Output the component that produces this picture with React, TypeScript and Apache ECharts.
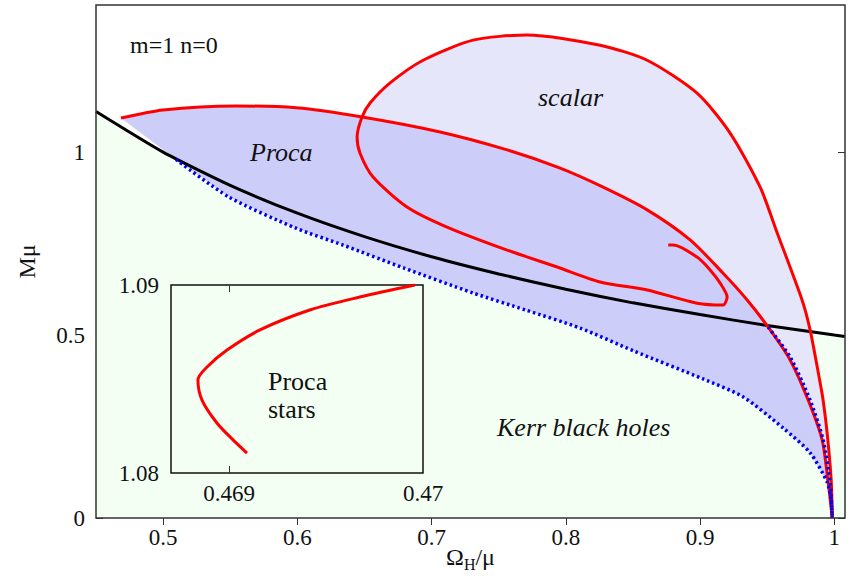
import React, { useEffect, useRef } from "react";
import * as echarts from "echarts";

// ---- data (Ω_H/μ, Mμ) ----
const extremalKerr: number[][] = [
  [0.45, 1.111], [0.5, 1.0], [0.55, 0.909], [0.6, 0.833], [0.65, 0.769],
  [0.7, 0.714], [0.75, 0.667], [0.8, 0.625], [0.85, 0.588], [0.9, 0.556],
  [0.95, 0.526], [1.0, 0.5], [1.008, 0.496],
];

const procaStars: number[][] = [
  [0.9985, 0.0], [0.997, 0.049], [0.9955, 0.096], [0.991, 0.213], [0.9806, 0.322],
  [0.9671, 0.432], [0.9507, 0.522], [0.9351, 0.596], [0.9172, 0.669], [0.8926, 0.76],
  [0.8606, 0.842], [0.8278, 0.904], [0.7958, 0.956], [0.7563, 1.006], [0.7063, 1.055],
  [0.6482, 1.096], [0.599, 1.121], [0.5543, 1.126], [0.4999, 1.115], [0.4686, 1.093],
];

const procaExistence: number[][] = [
  [0.5096, 0.98], [0.5491, 0.877], [0.599, 0.792], [0.634, 0.746], [0.6795, 0.683],
  [0.7309, 0.615], [0.7704, 0.568], [0.8107, 0.519], [0.8509, 0.456], [0.9023, 0.38],
  [0.9321, 0.331], [0.9619, 0.246], [0.982, 0.178], [0.9947, 0.098], [0.9977, 0.049],
  [0.9985, 0.0],
];

const scalarExistence: number[][] = [
  [0.9507, 0.522], [0.9671, 0.44], [0.982, 0.322], [0.9917, 0.213], [0.9969, 0.096],
  [0.9985, 0.0],
];

const scalarStars: number[][] = [
  [0.9985, 0.0], [0.9977, 0.104], [0.9947, 0.232], [0.9917, 0.322], [0.9895, 0.369],
  [0.982, 0.514], [0.976, 0.596], [0.9575, 0.779], [0.9448, 0.904], [0.9224, 1.052],
  [0.8978, 1.161], [0.8606, 1.251], [0.8256, 1.292], [0.7712, 1.32], [0.7309, 1.306],
  [0.6937, 1.251], [0.6691, 1.189], [0.6542, 1.134], [0.6482, 1.096], [0.6445, 1.041],
  [0.6467, 0.997], [0.6564, 0.932], [0.6817, 0.85], [0.7115, 0.795], [0.7563, 0.732],
  [0.7935, 0.686], [0.8256, 0.645], [0.8606, 0.623], [0.8978, 0.587], [0.9172, 0.582],
  [0.9202, 0.604], [0.915, 0.642], [0.9075, 0.678], [0.8978, 0.713], [0.88, 0.746],
  [0.8763, 0.746],
];

const procaInset: number[][] = [
  [0.469958, 1.09], [0.469674, 1.08936], [0.469416, 1.08867], [0.469159, 1.08761],
  [0.468989, 1.08654], [0.468886, 1.08564], [0.468839, 1.08495], [0.46886, 1.08388],
  [0.468937, 1.08266], [0.46902, 1.08176], [0.469092, 1.08106],
];

const xTicks = [0.5, 0.6, 0.7, 0.8, 0.9, 1];
const yTicks = [0, 0.5, 1];
const insetXLabels = [0.469, 0.47];
const insetXTicks = [0.469];
const insetYLabels = [1.08, 1.09];

const X_MIN = 0.45;
const X_MAX = 1.008;
const Y_MIN = 0;
const Y_MAX = 1.402;
const IX_MIN = 0.4687;
const IX_MAX = 0.47;
const IY_MIN = 1.08;
const IY_MAX = 1.09;

const SERIF = "Liberation Serif";
const GREEN = "#f3fff3";
const LIGHT = "#e6e6fb";
const DARK = "#cdcdfa";
const RED = "#ff0000";
const BLUE = "#0000ee";

function fillSeries(points: number[][], color: string, z: number) {
  return {
    type: "custom",
    xAxisIndex: 0,
    yAxisIndex: 0,
    z,
    clip: true,
    silent: true,
    data: [[0.7, 0.5]],
    renderItem: (_params: any, api: any) => ({
      type: "polygon",
      shape: { points: points.map((p) => api.coord(p)) },
      style: { fill: color, stroke: "none" },
    }),
  };
}

function lineSeries(
  data: number[][],
  color: string,
  width: number,
  type: any,
  z: number,
  smooth = 0.25
) {
  return {
    type: "line",
    data,
    xAxisIndex: 0,
    yAxisIndex: 0,
    showSymbol: false,
    symbol: "none",
    smooth,
    silent: true,
    z,
    lineStyle: { color, width, type, cap: "butt" },
  };
}

function label(text: string, x: number, y: number, italic: boolean, size = 26) {
  return {
    type: "text",
    x,
    y,
    z: 20,
    style: {
      text,
      fontFamily: SERIF,
      fontSize: size,
      fontStyle: italic ? "italic" : "normal",
      fill: "#111",
      textAlign: "left",
      textVerticalAlign: "middle",
    },
  };
}

export default function App() {
  const ref = useRef<HTMLDivElement>(null);

  useEffect(() => {
    if (!ref.current) return;
    const chart = echarts.init(ref.current, undefined, { renderer: "svg" });

    const greenPoly = [...extremalKerr, [X_MAX, Y_MIN], [X_MIN, Y_MIN]];
    const cut = scalarStars.findIndex((p) => p[0] < 0.66 && p[1] < 1.05);
    const lightPoly = [...scalarStars.slice(0, cut + 1), ...scalarExistence];
    const darkPoly = [...procaStars, ...procaExistence];

    const tickStyle = { color: "#333", width: 1 };
    const labelStyle = { fontFamily: SERIF, fontSize: 23, color: "#111" };

    chart.setOption({
      animation: false,
      backgroundColor: "#ffffff",
      grid: [
        { left: 96, top: 5, width: 749, height: 513, show: true, borderColor: "#333", borderWidth: 1.5, z: 10, containLabel: false, outerBoundsMode: "none" },
        { left: 171, top: 285, width: 252, height: 188, show: true, borderColor: "#111", borderWidth: 1.5, z: 10, containLabel: false, outerBoundsMode: "none" },
      ],
      xAxis: [
        {
          gridIndex: 0, type: "value", min: X_MIN, max: X_MAX, position: "bottom",
          axisLine: { show: false }, splitLine: { show: false },
          axisTick: { show: true, inside: true, length: 7, customValues: xTicks, lineStyle: tickStyle },
          axisLabel: { ...labelStyle, margin: 8, customValues: xTicks, formatter: (v: number) => String(v) },
          name: "{a|Ω}{b|H}{a|/μ}",
          nameLocation: "middle",
          nameGap: 24,
          nameMoveOverlap: false,
          nameTextStyle: {
            rich: {
              a: { fontFamily: SERIF, fontSize: 24, color: "#111", lineHeight: 30 },
              b: { fontFamily: SERIF, fontSize: 16, color: "#111", lineHeight: 12, verticalAlign: "bottom" },
            },
          },
        },
        {
          gridIndex: 0, type: "value", min: X_MIN, max: X_MAX, position: "top",
          axisLine: { show: false }, splitLine: { show: false },
          axisTick: { show: true, inside: true, length: 7, customValues: xTicks, lineStyle: tickStyle },
          axisLabel: { show: false },
        },
        {
          gridIndex: 1, type: "value", min: IX_MIN, max: IX_MAX, position: "bottom", z: 12,
          axisLine: { show: false }, splitLine: { show: false },
          axisTick: { show: true, inside: true, length: 7, customValues: insetXTicks, lineStyle: tickStyle },
          axisLabel: { ...labelStyle, margin: 9, customValues: insetXLabels, formatter: (v: number) => String(v) },
        },
        {
          gridIndex: 1, type: "value", min: IX_MIN, max: IX_MAX, position: "top", z: 12,
          axisLine: { show: false }, splitLine: { show: false },
          axisTick: { show: true, inside: true, length: 7, customValues: insetXTicks, lineStyle: tickStyle },
          axisLabel: { show: false },
        },
      ],
      yAxis: [
        {
          gridIndex: 0, type: "value", min: Y_MIN, max: Y_MAX, position: "left",
          axisLine: { show: false }, splitLine: { show: false },
          axisTick: { show: true, inside: true, length: 7, customValues: yTicks, lineStyle: tickStyle },
          axisLabel: { ...labelStyle, margin: 11, customValues: yTicks, formatter: (v: number) => String(v) },
          name: "Mμ",
          nameLocation: "middle",
          nameRotate: 90,
          nameGap: 57,
          nameMoveOverlap: false,
          nameTextStyle: { fontFamily: SERIF, fontSize: 24, color: "#111" },
        },
        {
          gridIndex: 0, type: "value", min: Y_MIN, max: Y_MAX, position: "right",
          axisLine: { show: false }, splitLine: { show: false },
          axisTick: { show: true, inside: true, length: 7, customValues: yTicks, lineStyle: tickStyle },
          axisLabel: { show: false },
        },
        {
          gridIndex: 1, type: "value", min: IY_MIN, max: IY_MAX, position: "left", z: 12,
          axisLine: { show: false }, splitLine: { show: false },
          axisTick: { show: false },
          axisLabel: { ...labelStyle, margin: 12, customValues: insetYLabels, formatter: (v: number) => v.toFixed(2) },
        },
      ],
      series: [
        fillSeries(greenPoly, GREEN, 1),
        fillSeries(lightPoly, LIGHT, 2),
        fillSeries(darkPoly, DARK, 3),
        lineSeries(extremalKerr, "#000000", 3, "solid", 4, 0.2),
        lineSeries(procaStars, RED, 3, "solid", 5),
        lineSeries(scalarStars, RED, 3, "solid", 5),
        lineSeries(procaExistence, BLUE, 3.5, [2.5, 3], 6),
        lineSeries(scalarExistence, BLUE, 3.5, [2.5, 3], 6),
        { ...lineSeries(procaInset, RED, 3, "solid", 13, 0.3), xAxisIndex: 2, yAxisIndex: 2 },
      ],
      graphic: [
        label("m=1 n=0", 130, 45, false, 24),
        label("scalar", 538, 97, true),
        label("Proca", 250, 152, true),
        label("Kerr black holes", 497, 427, true),
        label("Proca", 268, 381, false),
        label("stars", 268, 409, false),
      ],
    });

    return () => chart.dispose();
  }, []);

  return (
    <div
      ref={ref}
      style={{ position: "fixed", left: 0, top: 0, width: 852, height: 576 }}
    />
  );
}
